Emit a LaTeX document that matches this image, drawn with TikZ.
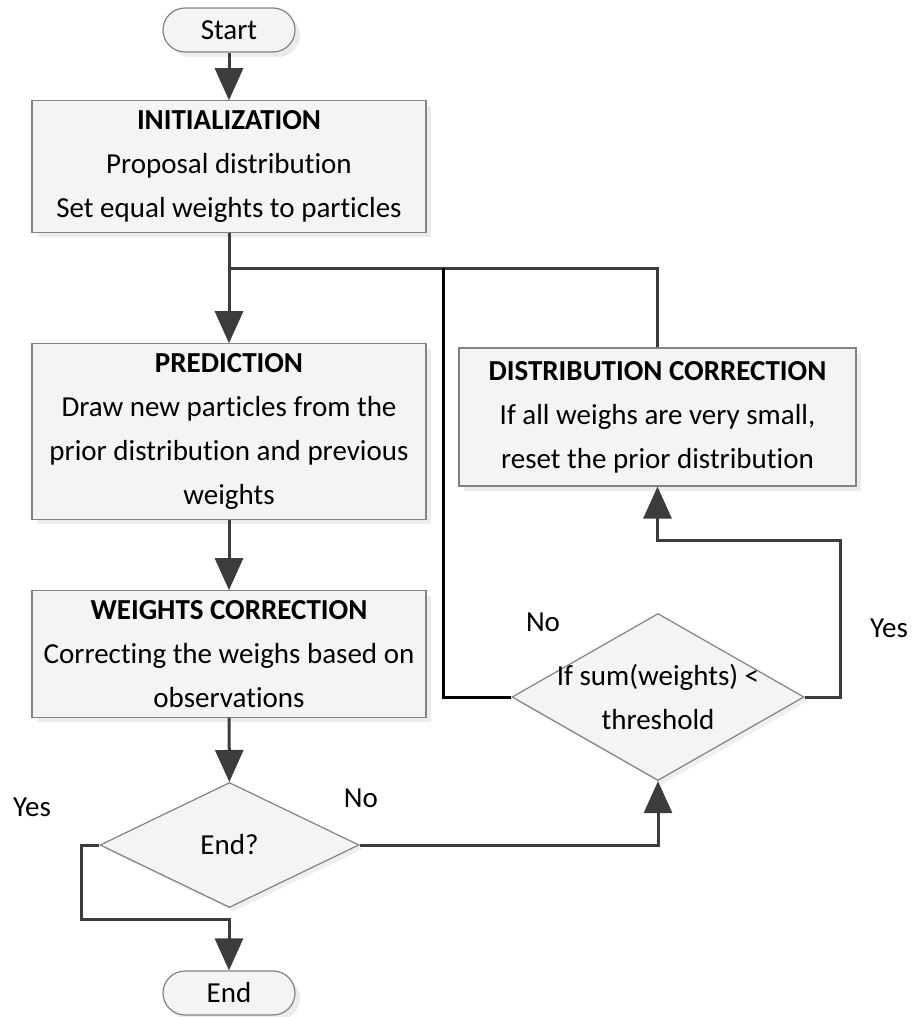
\documentclass[tikz,border=0pt]{standalone}
\usepackage{fontspec}
\setmainfont[Ligatures={NoCommon}]{Carlito}
\usetikzlibrary{shapes.geometric, arrows.meta, shadows, positioning}
\definecolor{boxline}{RGB}{130,130,130}
\definecolor{boxfill}{RGB}{244,244,244}
\definecolor{flowline}{RGB}{60,60,60}

\tikzset{
	stepbox/.style={rectangle, draw=boxline, fill=boxfill, line width=0.6pt, align=center,
		drop shadow={shadow xshift=2.5pt, shadow yshift=-2.5pt, fill=gray!30}},
	termbox/.style={stepbox, rounded corners=11pt, minimum width=66pt, minimum height=22pt, inner sep=0pt},
	decbox/.style={diamond, draw=boxline, fill=boxfill, line width=0.6pt, inner sep=0pt,
		drop shadow={shadow xshift=2pt, shadow yshift=-2pt, fill=gray!25}},
	flow/.style={draw=flowline, line width=1.5pt},
	flowarr/.style={flow, -{Triangle[length=16pt, width=14pt]}},
}

\begin{document}
\begin{tikzpicture}[x=0.5pt, y=-0.5pt]
	\fontsize{14.5}{22}\selectfont
	\useasboundingbox (0,0) rectangle (912,1017);

	% terminals
	\node[termbox] (start) at (229,30) {Start};
	\node[termbox] (stop) at (229,993) {End};

	% process boxes
	\node[stepbox, minimum width=197pt, minimum height=63.5pt] (init) at (229,166.5) {\textbf{INITIALIZATION}\\Proposal distribution\\Set equal weights to particles};
	\node[stepbox, minimum width=197pt, minimum height=84.5pt] (pred) at (229,431.5) {\textbf{PREDICTION}\\Draw new particles from the\\prior distribution and previous\\weights};
	\node[stepbox, minimum width=197pt, minimum height=63pt] (wcorr) at (229,654) {\textbf{WEIGHTS CORRECTION}\\Correcting the weighs based on\\observations};
	\node[stepbox, minimum width=198.5pt, minimum height=69pt] (dcorr) at (657.5,417) {\textbf{DISTRIBUTION CORRECTION}\\If all weighs are very small,\\reset the prior distribution};

	% decisions
	\node[decbox, minimum width=129.5pt, minimum height=62.5pt] (endq) at (229.5,845) {};
	\node (endqtext) at (endq) {End?};
	\node[decbox, minimum width=146pt, minimum height=83.5pt] (thr) at (658,697) {};
	\node[align=center] (thrtext) at (thr) {If sum(weights) <\\threshold};

	% branch labels
	\node (yesend) at (32,807) {Yes};
	\node (noend) at (361,798) {No};
	\node (nothr) at (543,622) {No};
	\node (yesthr) at (889,628) {Yes};

	% bends
	\coordinate (merge) at (229,268);
	\coordinate (loopin) at (443,268);
	\coordinate (yesturn) at (81,919);
	\coordinate (yesup) at (840,540);

	% connectors
	\draw[flowarr] (start) -- (init);
	\draw[flowarr] (init) -- (pred);
	\draw[flow] (dcorr.north) |- (merge);
	\draw[flow, draw=black] (thr.west) -| (loopin);
	\draw[flowarr] (pred) -- (wcorr);
	\draw[flowarr] (wcorr) -- (endq);
	\draw[flowarr] (endq.west) -| (yesturn) -| (stop.north);
	\draw[flowarr] (endq.east) -| (thr.south);
	\draw[flowarr] (thr.east) -| (yesup) -| (dcorr.south);
\end{tikzpicture}
\end{document}
